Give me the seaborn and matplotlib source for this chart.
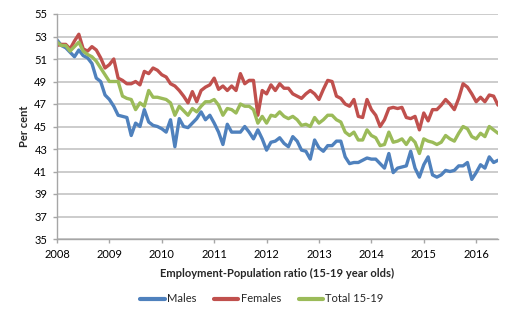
import numpy as np
import pandas as pd
import matplotlib
matplotlib.use("Agg")
import matplotlib.pyplot as plt
import seaborn as sns

# Monthly data, Jan 2008 - Jun 2016
years = ["2008", "2009", "2010", "2011", "2012", "2013", "2014", "2015", "2016"]

males = [52.7, 52.2, 52.0, 51.6, 51.2, 51.8, 51.3, 51.1, 50.6, 49.3, 49.0, 47.8,
         47.4, 46.8, 46.0, 45.9, 45.8, 44.2, 45.3, 45.0, 46.5, 45.4, 45.1, 45.0,
         44.8, 44.5, 45.6, 43.2, 45.7, 45.0, 44.9, 45.3, 45.7, 46.3, 45.6, 46.0,
         45.3, 44.5, 43.4, 45.2, 44.5, 44.5, 44.5, 45.0, 44.5, 43.9, 44.7, 43.9,
         42.9, 43.6, 43.7, 44.0, 43.5, 43.2, 44.1, 43.7, 42.9, 42.8, 42.1, 43.8,
         43.1, 42.8, 43.3, 43.3, 43.7, 43.7, 42.3, 41.7, 41.8, 41.8, 42.0, 42.2,
         42.1, 42.1, 41.7, 41.3, 42.6, 40.9, 41.3, 41.4, 41.5, 42.8, 41.3, 40.5,
         41.6, 42.3, 40.7, 40.5, 40.7, 41.1, 41.0, 41.1, 41.5, 41.5, 41.8, 40.3,
         40.9, 41.6, 41.3, 42.3, 41.8, 42.0]

females = [52.2, 52.3, 52.3, 51.9, 52.6, 53.2, 51.9, 51.7, 52.1, 51.8, 51.1, 50.2,
           50.5, 51.0, 49.3, 49.1, 48.8, 48.8, 49.0, 48.7, 49.9, 49.7, 50.2, 50.0,
           49.6, 49.4, 48.8, 48.6, 48.2, 47.7, 47.1, 48.1, 47.2, 48.2, 48.5, 48.7,
           49.3, 48.3, 48.6, 48.2, 48.6, 48.2, 49.7, 48.8, 49.1, 49.1, 46.0, 48.2,
           47.9, 48.7, 48.2, 48.8, 48.4, 48.4, 47.9, 47.7, 47.5, 47.9, 48.2, 47.9,
           47.4, 48.3, 49.1, 49.0, 47.7, 47.5, 47.0, 46.8, 47.4, 45.9, 45.8, 47.4,
           46.5, 46.0, 45.0, 45.6, 46.6, 46.7, 46.6, 46.7, 45.8, 45.7, 45.9, 44.7,
           46.2, 45.5, 46.5, 46.5, 46.9, 47.4, 47.0, 46.5, 47.5, 48.8, 48.5, 47.9,
           47.2, 47.6, 47.2, 47.8, 47.7, 46.9]

total = [52.5, 52.2, 52.2, 51.7, 52.1, 52.5, 51.7, 51.4, 51.2, 50.8, 50.2, 49.6,
         49.0, 49.0, 49.0, 47.7, 47.5, 47.4, 46.5, 47.1, 46.8, 48.2, 47.6, 47.6,
         47.5, 47.4, 47.1, 46.0, 46.8, 46.4, 46.0, 46.6, 46.3, 46.8, 47.2, 47.2,
         47.4, 46.9, 46.0, 46.6, 46.5, 46.2, 47.0, 46.8, 46.8, 46.5, 45.3, 45.9,
         45.3, 46.0, 45.9, 46.3, 45.9, 45.7, 45.9, 45.6, 45.1, 45.2, 45.0, 45.8,
         45.3, 45.6, 46.0, 46.0, 45.6, 45.4, 44.5, 44.2, 44.5, 43.8, 43.8, 44.7,
         44.2, 44.0, 43.3, 43.4, 44.5, 43.6, 43.7, 43.9, 43.4, 44.0, 43.6, 42.6,
         43.9, 43.7, 43.6, 43.4, 43.6, 44.2, 43.9, 43.7, 44.4, 45.0, 44.8, 44.1,
         43.9, 44.4, 44.1, 45.0, 44.7, 44.4]

series_names = ["Males", "Females", "Total 15-19"]
colors = ["#4F81BD", "#C0504D", "#9BBB59"]

n = len(males)
month = np.arange(n)
df = pd.concat([
    pd.DataFrame({"month": month, "value": males, "series": "Males"}),
    pd.DataFrame({"month": month, "value": females, "series": "Females"}),
    pd.DataFrame({"month": month, "value": total, "series": "Total 15-19"}),
])

sns.set_theme(style="white")
plt.rcParams["font.family"] = ["Lato", "DejaVu Sans"]

fig = plt.figure(figsize=(5.24, 3.24), dpi=100)
ax = fig.add_axes([57 / 524, 1 - 239 / 324, 441 / 524, 225 / 324])

sns.lineplot(data=df, x="month", y="value", hue="series", hue_order=series_names,
             palette=colors, linewidth=2.4, ax=ax, legend=False)

ax.set_xlim(0, n - 1)
ax.set_ylim(35, 55)
ax.set_yticks(np.arange(35, 56, 2))
ax.set_xticks(np.arange(0, n, 12))
ax.set_xticklabels(years)
ax.yaxis.grid(True, color="#BFBFBF", linewidth=1.1)
ax.set_axisbelow(True)
for s in ["top", "right"]:
    ax.spines[s].set_visible(False)
for s in ["left", "bottom"]:
    ax.spines[s].set_color("#A6A6A6")
    ax.spines[s].set_linewidth(1.0)
ax.tick_params(axis="both", which="major", length=3, width=1.0, color="#A6A6A6",
               labelsize=8, pad=4, labelcolor="#000000", direction="out")
ax.tick_params(axis="x", bottom=True)
ax.tick_params(axis="y", left=True)

ax.set_xlabel("Employment-Population ratio (15-19 year olds)", fontsize=8,
              fontweight="bold", labelpad=6)
ax.set_ylabel("Per cent", fontsize=8, fontweight="bold", labelpad=3)

handles = [plt.Line2D([0], [0], color=c, linewidth=3) for c in colors]
fig.legend(handles, series_names, loc="center", bbox_to_anchor=(0.5, 1 - 299 / 324),
           ncol=3, frameon=False, fontsize=8, handlelength=2.2, handletextpad=0.2,
           columnspacing=1.6)

fig.savefig("out.png", dpi=100)
